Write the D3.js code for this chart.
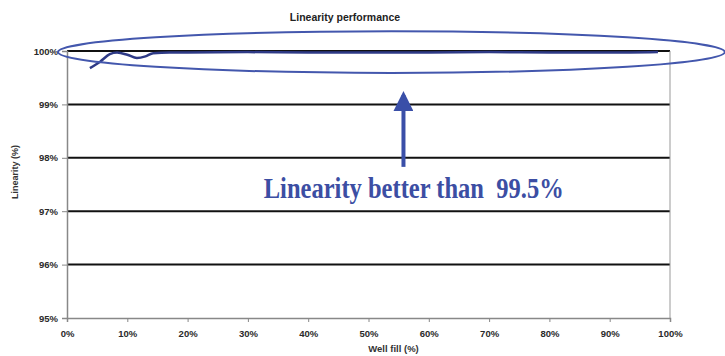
<!DOCTYPE html>
<html>
<head>
<meta charset="utf-8">
<script src="https://cdn.jsdelivr.net/npm/d3@7"></script>
<style>
  body { margin: 0; background: #fff; }
  svg { display: block; }
</style>
</head>
<body>
<svg width="725" height="356"></svg>
<script>
// data
const fillPct   = [3.8, 5.5, 7.1, 8.3, 10, 11.6, 13, 14.3, 17, 20, 30, 40, 50, 60, 70, 80, 90, 98];
const linearity = [99.68, 99.8, 99.94, 99.97, 99.93, 99.87, 99.9, 99.96, 99.97, 99.97, 99.98, 99.97, 99.97, 99.97, 99.98, 99.97, 99.97, 99.98];
const xTicks = [0, 10, 20, 30, 40, 50, 60, 70, 80, 90, 100];
const yTicks = [95, 96, 97, 98, 99, 100];
const gridVals = [96, 97, 98, 99, 100];

const svg = d3.select("svg");
const margin = {top: 51, right: 55, bottom: 38, left: 67},
    width = 725 - margin.left - margin.right,
    height = 356 - margin.top - margin.bottom;

const g = svg.append("g")
    .attr("transform", "translate(" + margin.left + "," + margin.top + ")");

const x = d3.scaleLinear().domain([0, 100]).range([0, width]);
const y = d3.scaleLinear().domain([95, 100]).range([height, 0]);

// gridlines
g.selectAll(".grid")
  .data(gridVals)
  .enter().append("line")
    .attr("x1", 0).attr("x2", width)
    .attr("y1", d => y(d)).attr("y2", d => y(d))
    .attr("stroke", "#111")
    .attr("stroke-width", 2);

// right border
g.append("line")
  .attr("x1", width).attr("x2", width)
  .attr("y1", 0).attr("y2", height)
  .attr("stroke", "#999").attr("stroke-width", 1);

// axes
const xAxis = g.append("g")
  .attr("transform", "translate(0," + height + ")")
  .call(d3.axisBottom(x).tickValues(xTicks).tickFormat(d => d + "%").tickSize(4).tickPadding(8));
const yAxis = g.append("g")
  .call(d3.axisLeft(y).tickValues(yTicks).tickFormat(d => d + "%").tickSize(5).tickPadding(4));

[xAxis, yAxis].forEach(a => {
  a.select(".domain").attr("stroke", "#888").attr("stroke-width", 1.5);
  a.selectAll(".tick line").attr("stroke", "#888");
  a.selectAll("text")
    .style("font-family", "Liberation Sans, Arial, sans-serif")
    .style("font-size", "9.5px")
    .style("font-weight", "bold")
    .attr("fill", "#2a2a2a");
});

// data line
const line = d3.line()
  .x((d, i) => x(fillPct[i]))
  .y(d => y(d))
  .curve(d3.curveMonotoneX);

g.append("path")
  .datum(linearity)
  .attr("d", line)
  .attr("fill", "none")
  .attr("stroke", "#2e3a86")
  .attr("stroke-width", 2.5);

// annotation: ellipse around the line
const ellCx = 53.8, ellCy = 99.98, ellRx = 55.3, ellRy = 0.39;
g.append("ellipse")
  .attr("cx", x(ellCx))
  .attr("cy", y(ellCy))
  .attr("rx", x(ellRx) - x(0))
  .attr("ry", y(100 - ellRy) - y(100))
  .attr("fill", "none")
  .attr("stroke", "#4357ad")
  .attr("stroke-width", 2);

// arrow
const arrX = 55.8, arrTop = 99.23, arrBot = 97.83;
svg.append("defs").append("marker")
  .attr("id", "head")
  .attr("viewBox", "0 0 10 10")
  .attr("refX", 8).attr("refY", 5)
  .attr("markerWidth", 5).attr("markerHeight", 5)
  .attr("orient", "auto")
  .append("path")
    .attr("d", "M0,0 L10,5 L0,10 Z")
    .attr("fill", "#3a4fa8");

g.append("line")
  .attr("x1", x(arrX)).attr("x2", x(arrX))
  .attr("y1", y(arrBot)).attr("y2", y(arrTop) + 3)
  .attr("stroke", "#3a4fa8")
  .attr("stroke-width", 4)
  .attr("marker-end", "url(#head)");

g.append("text")
  .attr("x", x(57.5))
  .attr("y", y(97.25))
  .attr("text-anchor", "middle")
  .attr("textLength", 300)
  .attr("lengthAdjust", "spacingAndGlyphs")
  .style("white-space", "pre")
  .style("font-family", "Liberation Serif, Times New Roman, serif")
  .style("font-size", "29px")
  .style("font-weight", "bold")
  .attr("fill", "#3c4ea3")
  .text("Linearity better than  99.5%");

// title
svg.append("text")
  .attr("x", 345)
  .attr("y", 21)
  .attr("text-anchor", "middle")
  .style("font-family", "Liberation Sans, Arial, sans-serif")
  .style("font-size", "10.5px")
  .style("font-weight", "bold")
  .attr("fill", "#222")
  .text("Linearity performance");

// axis titles
svg.append("text")
  .attr("x", margin.left + width / 2 + 25)
  .attr("y", 352)
  .attr("text-anchor", "middle")
  .style("font-family", "Liberation Sans, Arial, sans-serif")
  .style("font-size", "9.5px")
  .style("font-weight", "bold")
  .attr("fill", "#333")
  .text("Well fill (%)");

svg.append("text")
  .attr("transform", "translate(18,172)rotate(-90)")
  .attr("text-anchor", "middle")
  .style("font-family", "Liberation Sans, Arial, sans-serif")
  .style("font-size", "9px")
  .style("font-weight", "bold")
  .attr("fill", "#333")
  .text("Linearity (%)");
</script>
</body>
</html>
